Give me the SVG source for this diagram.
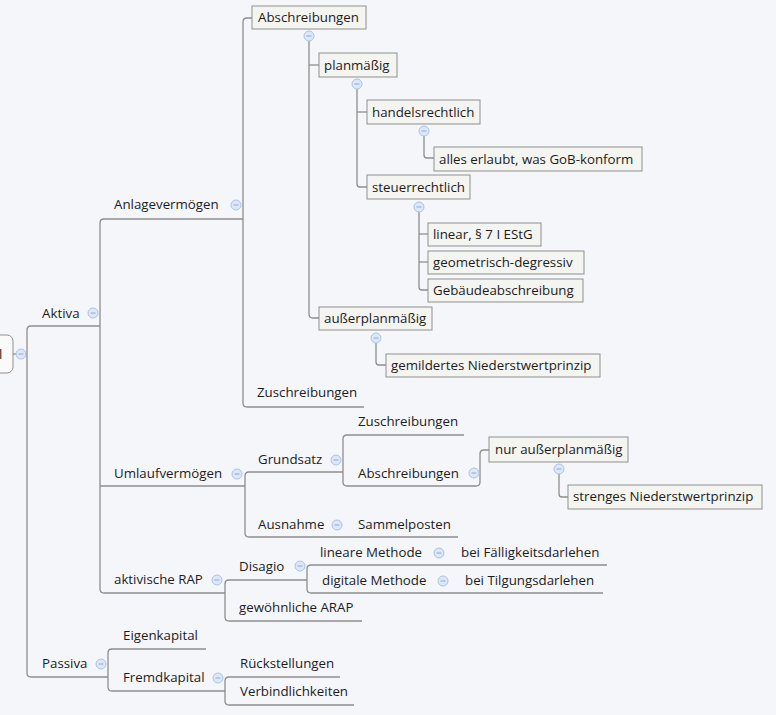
<svg xmlns="http://www.w3.org/2000/svg" width="776" height="715" viewBox="0 0 776 715">
<style>
text{font-family:"Open Sans","Noto Sans","Liberation Sans",sans-serif;font-size:13.3px;fill:#1c1c1c}
.c{fill:none;stroke:#8e8e8e;stroke-width:1.3}
.b{fill:#f4f4f1;stroke:#8f8f8f;stroke-width:1}
.o{fill:#dce7f7;stroke:#a9c3e6;stroke-width:1}
.m{stroke:#8fa9d3;stroke-width:1}
</style>
<defs>
<g id="col"><circle class="o" cx="0" cy="0" r="5"/><line class="m" x1="-2.5" y1="0" x2="2.5" y2="0"/></g>
</defs>
<rect width="776" height="715" fill="#f5f6fa"/>
<g id="connectors">
<path class="c" d="M13,354 H27"/>
<path class="c" d="M100,326 H31 Q27,326 27,330 V673 Q27,677 31,677 H108"/>
<path class="c" d="M243,219 H104 Q100,219 100,223 V589 Q100,593 104,593 H225"/>
<path class="c" d="M100,486 H245"/>
<path class="c" d="M252,18 H247 Q243,18 243,22 V403 Q243,407 247,407 H364"/>
<path class="c" d="M309,41 V314 Q309,318 313,318 H319"/>
<path class="c" d="M309,65 H319"/>
<path class="c" d="M357,89 V184 Q357,187 360,187 H367"/>
<path class="c" d="M357,112 H367"/>
<path class="c" d="M424,136 V155 Q424,158 427,158 H434"/>
<path class="c" d="M419,212 V287 Q419,290 422,290 H428"/>
<path class="c" d="M419,234 H428"/>
<path class="c" d="M419,262 H428"/>
<path class="c" d="M376,343 V362 Q376,365 379,365 H386"/>
<path class="c" d="M343,472 H249 Q245,472 245,476 V533 Q245,537 249,537 H458"/>
<path class="c" d="M464,435 H347 Q343,435 343,439 V482 Q343,486 347,486 H476 Q480,486 480,482 V454 Q480,450 484,450 H489"/>
<path class="c" d="M559,474 V494 Q559,497 562,497 H568"/>
<path class="c" d="M307,580 H229 Q225,580 225,584 V617 Q225,621 229,621 H362"/>
<path class="c" d="M607,565 H311 Q307,565 307,569 V589 Q307,593 311,593 H603"/>
<path class="c" d="M206,649 H112 Q108,649 108,653 V687 Q108,691 112,691 H225"/>
<path class="c" d="M340,677 H229 Q225,677 225,681 V701 Q225,705 229,705 H354"/>
</g>
<g id="root"><rect x="-12" y="335" width="25" height="38" rx="6" fill="#fafafa" stroke="#8f8f8f"/><text x="-1" y="359">l</text><use href="#col" x="21" y="354"/></g>
<g id="aktiva"><text x="42" y="318">Aktiva</text><use href="#col" x="93" y="313"/></g>
<g id="anlagevermoegen"><text x="114" y="209">Anlagevermögen</text><use href="#col" x="236" y="205"/></g>
<g id="abschreibungen-av"><rect class="b" x="252" y="6" width="114" height="23"/><text x="258" y="22">Abschreibungen</text><use href="#col" x="309" y="36"/></g>
<g id="planmaessig"><rect class="b" x="319" y="53" width="78" height="24"/><text x="324" y="69.5">planmäßig</text><use href="#col" x="357" y="84"/></g>
<g id="handelsrechtlich"><rect class="b" x="367" y="100" width="113" height="24"/><text x="372" y="116.5">handelsrechtlich</text><use href="#col" x="424" y="131"/></g>
<g id="alles-erlaubt"><rect class="b" x="434" y="147" width="208" height="24"/><text x="439" y="163.5">alles erlaubt, was GoB-konform</text></g>
<g id="steuerrechtlich"><rect class="b" x="367" y="175" width="103" height="24"/><text x="372" y="191.5">steuerrechtlich</text><use href="#col" x="419" y="207"/></g>
<g id="linear"><rect class="b" x="428" y="223" width="113" height="23"/><text x="433" y="239">linear, § 7 I EStG</text></g>
<g id="geometrisch"><rect class="b" x="428" y="251" width="156" height="23"/><text x="433" y="267">geometrisch-degressiv</text></g>
<g id="gebaeude"><rect class="b" x="428" y="279" width="155" height="23"/><text x="433" y="295">Gebäudeabschreibung</text></g>
<g id="ausserplanmaessig"><rect class="b" x="319" y="307" width="113" height="23"/><text x="324" y="323">außerplanmäßig</text><use href="#col" x="376" y="338"/></g>
<g id="gemildertes"><rect class="b" x="386" y="354" width="214" height="23"/><text x="391" y="370">gemildertes Niederstwertprinzip</text></g>
<g id="zuschreibungen-av"><text x="257" y="397">Zuschreibungen</text></g>
<g id="umlaufvermoegen"><text x="114" y="478">Umlaufvermögen</text><use href="#col" x="237" y="474"/></g>
<g id="grundsatz"><text x="258" y="464">Grundsatz</text><use href="#col" x="336" y="460"/></g>
<g id="zuschreibungen-uv"><text x="358" y="426">Zuschreibungen</text></g>
<g id="abschreibungen-uv"><text x="358" y="478">Abschreibungen</text><use href="#col" x="474" y="473"/></g>
<g id="nur-ausserplanmaessig"><rect class="b" x="489" y="437" width="139" height="25"/><text x="495" y="454">nur außerplanmäßig</text><use href="#col" x="559" y="469"/></g>
<g id="strenges"><rect class="b" x="568" y="485" width="194" height="24"/><text x="573" y="501">strenges Niederstwertprinzip</text></g>
<g id="ausnahme"><text x="258" y="529">Ausnahme</text><use href="#col" x="337" y="525"/></g>
<g id="sammelposten"><text x="358" y="529">Sammelposten</text></g>
<g id="aktivische-rap"><text x="114" y="584">aktivische RAP</text><use href="#col" x="217" y="580"/></g>
<g id="disagio"><text x="239" y="571">Disagio</text><use href="#col" x="300" y="566"/></g>
<g id="lineare-methode"><text x="320" y="557">lineare Methode</text><use href="#col" x="439" y="553"/></g>
<g id="faelligkeit"><text x="461" y="557">bei Fälligkeitsdarlehen</text></g>
<g id="digitale-methode"><text x="322" y="585">digitale Methode</text><use href="#col" x="443" y="581"/></g>
<g id="tilgung"><text x="465" y="585">bei Tilgungsdarlehen</text></g>
<g id="gewoehnliche"><text x="239" y="612">gewöhnliche ARAP</text></g>
<g id="passiva"><text x="42" y="668">Passiva</text><use href="#col" x="101" y="664"/></g>
<g id="eigenkapital"><text x="123" y="640">Eigenkapital</text></g>
<g id="fremdkapital"><text x="123" y="682">Fremdkapital</text><use href="#col" x="218" y="678"/></g>
<g id="rueckstellungen"><text x="240" y="668">Rückstellungen</text></g>
<g id="verbindlichkeiten"><text x="240" y="696">Verbindlichkeiten</text></g>
</svg>
